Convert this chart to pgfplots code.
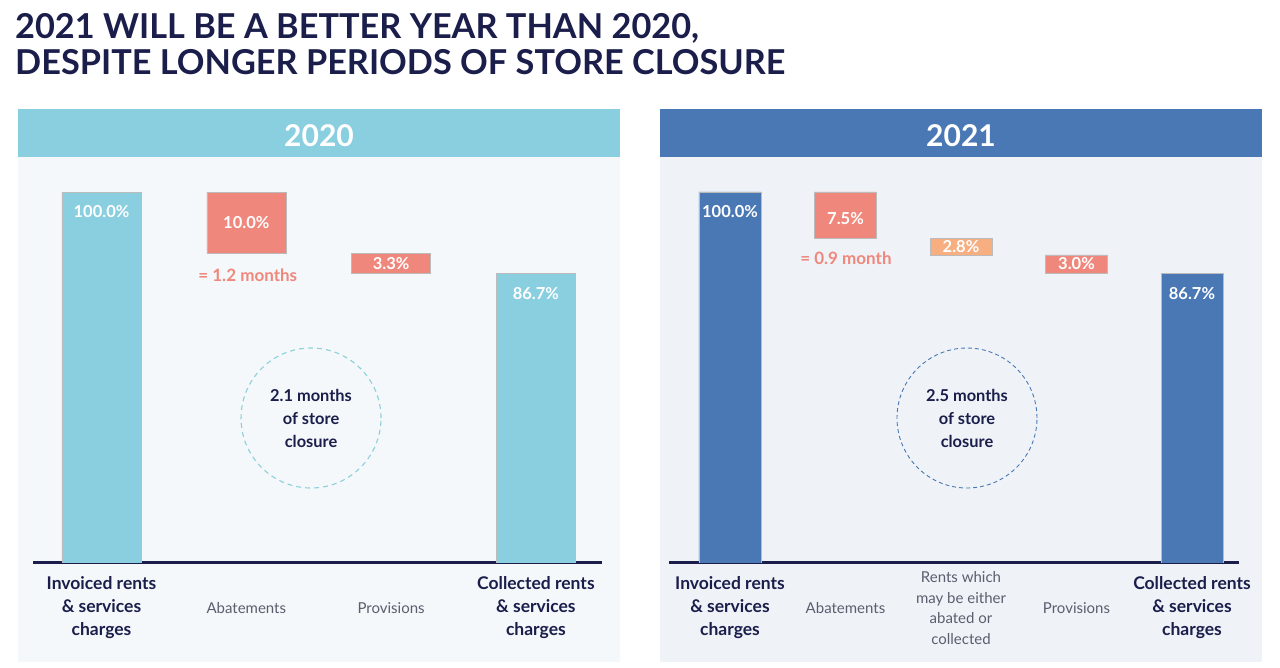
\documentclass[border=0pt]{standalone}
\usepackage{fontspec}
\setmainfont{Lato}
\usepackage{pgfplots}
\pgfplotsset{compat=1.18}
\definecolor{navy}{HTML}{1B1E4B}
\definecolor{cyanbar}{HTML}{89CFDF}
\definecolor{bluebar}{HTML}{4A78B5}
\definecolor{salmon}{HTML}{F0877C}
\definecolor{orangebar}{HTML}{F7AE80}
\definecolor{bgL}{HTML}{F4F8FA}
\definecolor{bgR}{HTML}{EFF3F8}
\definecolor{catgray}{HTML}{5A5E6E}
\definecolor{edge}{HTML}{BBBBBB}
\definecolor{circL}{HTML}{8DD0DC}
\pgfplotsset{
  wf/.style={
    scale only axis, height=392pt,
    ybar stacked,
    ymin=39.344, ymax=103.607,
    enlargelimits=false,
    axis x line*=bottom, axis y line=none,
    x axis line style={line width=3pt, navy, -},
    major tick length=0pt,
    clip mode=individual,
    xticklabel style={anchor=center, yshift=-46pt, align=center, text=navy,
      font=\bfseries\fontsize{17.5}{23}\selectfont},
  },
}
\tikzset{val/.style={text=white, font=\bfseries\fontsize{16.5}{19}\selectfont, inner sep=0pt}}
\newcommand{\reg}[1]{\mdseries\color{catgray}\fontsize{15}{20.7}\selectfont #1}
\begin{document}
\begin{tikzpicture}
\path[fill=white] (0pt,0pt) rectangle (1280pt,-667pt);
\fill[bgL] (18pt,-157pt) rectangle (620pt,-662pt);
\fill[cyanbar] (18pt,-109pt) rectangle (620pt,-157pt);
\fill[bgR] (660pt,-157pt) rectangle (1262pt,-662pt);
\fill[bluebar] (660pt,-109pt) rectangle (1262pt,-157pt);
\node[anchor=base west, inner sep=0, text=navy, font=\bfseries\fontsize{34.3}{36}\selectfont] at (15pt,-38.5pt) {2021 WILL BE A BETTER YEAR THAN 2020,};
\node[anchor=base west, inner sep=0, text=navy, font=\bfseries\fontsize{34.3}{36}\selectfont] at (15pt,-74.5pt) {DESPITE LONGER PERIODS OF STORE CLOSURE};
\node[anchor=base, inner sep=0, text=white, font=\bfseries\fontsize{30}{32}\selectfont] at (319pt,-146pt) {2020};
\node[anchor=base, inner sep=0, text=white, font=\bfseries\fontsize{30}{32}\selectfont] at (961pt,-146pt) {2021};

% ---------- 2020 ----------
\begin{axis}[wf, at={(33pt,-562pt)}, anchor=south west, width=569pt,
  bar width=79pt, xmin=-0.473, xmax=3.4565,
  xtick={0,1,2,3},
  xticklabels={{Invoiced rents\\\& services\\charges},{\reg{Abatements}},{\reg{Provisions}},{Collected rents\\\& services\\charges}},
  after end axis/.append code={
    \node[val] at (axis cs:0,96.72) {100.0\%};
    \node[val] at (axis cs:1,95) {10.0\%};
    \node[val] at (axis cs:2,88.35) {3.3\%};
    \node[val] at (axis cs:3,83.42) {86.7\%};
  }]
\addplot[draw=none, fill=none] coordinates {(0,0) (1,90) (2,86.7) (3,0)};
\addplot[fill=cyanbar, draw=edge, line width=0.4pt] coordinates {(0,100) (1,0) (2,0) (3,86.7)};
\addplot[fill=salmon, draw=edge, line width=0.4pt] coordinates {(0,0) (1,10) (2,3.3) (3,0)};
\node[text=salmon, font=\bfseries\fontsize{17}{19}\selectfont, inner sep=0pt] at (axis cs:1.01,86.4) {= 1.2 months};
\draw[circL, line width=1.1pt, dash pattern=on 5pt off 4pt] (axis cs:1.447,62.95) circle[radius=70pt];
\node[align=center, text=navy, font=\bfseries\fontsize{16.4}{23}\selectfont] at (axis cs:1.447,62.95) {2.1 months\\of store\\closure};
\end{axis}

% ---------- 2021 ----------
\begin{axis}[wf, at={(669pt,-562pt)}, anchor=south west, width=570pt,
  bar width=62pt, xmin=-0.528, xmax=4.407,
  xtick={0,1,2,3,4},
  xticklabels={{Invoiced rents\\\& services\\charges},{\reg{Abatements}},{\reg{Rents which}\\[-2.3pt]\reg{may be either}\\[-2.3pt]\reg{abated or}\\[-2.3pt]\reg{collected}},{\reg{Provisions}},{Collected rents\\\& services\\charges}},
  after end axis/.append code={
    \node[val] at (axis cs:0,96.72) {100.0\%};
    \node[val] at (axis cs:1,95.7) {7.5\%};
    \node[val] at (axis cs:2,91.1) {2.8\%};
    \node[val] at (axis cs:3,88.2) {3.0\%};
    \node[val] at (axis cs:4,83.42) {86.7\%};
  }]
\addplot[draw=none, fill=none] coordinates {(0,0) (1,92.5) (2,89.7) (3,86.7) (4,0)};
\addplot[fill=bluebar, draw=edge, line width=0.4pt] coordinates {(0,100) (1,0) (2,0) (3,0) (4,86.7)};
\addplot[fill=salmon, draw=edge, line width=0.4pt] coordinates {(0,0) (1,7.5) (2,0) (3,3.0) (4,0)};
\addplot[fill=orangebar, draw=edge, line width=0.4pt] coordinates {(0,0) (1,0) (2,2.8) (3,0) (4,0)};
\node[text=salmon, font=\bfseries\fontsize{17}{19}\selectfont, inner sep=0pt] at (axis cs:1.004,89.06) {= 0.9 month};
\draw[bluebar, line width=0.9pt, dash pattern=on 4pt off 3pt] (axis cs:2.052,62.95) circle[radius=70pt];
\node[align=center, text=navy, font=\bfseries\fontsize{16.4}{23}\selectfont] at (axis cs:2.052,62.95) {2.5 months\\of store\\closure};
\end{axis}
\end{tikzpicture}
\end{document}
